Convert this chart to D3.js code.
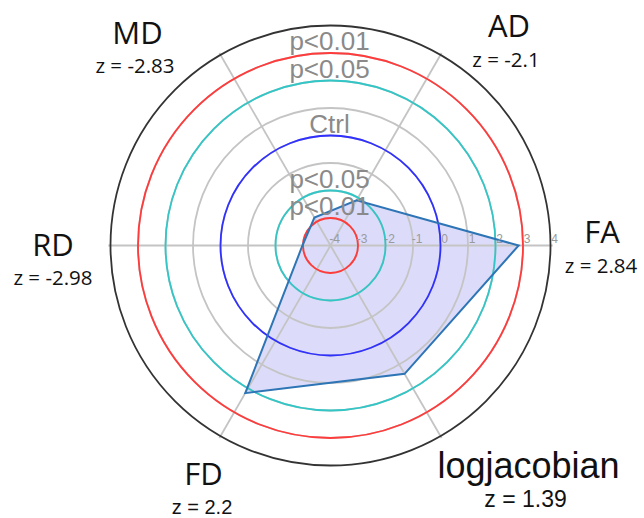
<!DOCTYPE html>
<html><head><meta charset="utf-8">
<script src="https://cdn.jsdelivr.net/npm/d3@7"></script>
<style>html,body{margin:0;padding:0;background:#fff;}svg{display:block;}</style>
</head><body><svg id="c" width="644" height="518"></svg>
<script>
// ---- data ----
const axisNames = ["FA", "AD", "MD", "RD", "FD", "logjacobian"];
const zValues = [2.84, -2.1, -2.83, -2.98, 2.2, 1.39];
const zLabels = ["z = 2.84", "z = -2.1", "z = -2.83", "z = -2.98", "z = 2.2", "z = 1.39"];
const tickValues = [-4, -3, -2, -1, 0, 1, 2, 3, 4];
const gridValues = [-3, -2, -1, 0, 1, 2, 3];
const refValues = [-3, -2, 0, 2, 3];
const refNames = ["p<0.01", "p<0.05", "Ctrl", "p<0.05", "p<0.01"];

// ---- layout ----
const W = 644, H = 518, cx = 330.5, cy = 245.5, R = 220;
const refColors = ["#ff3b3b", "#33c6c6", "#3030ff", "#33c6c6", "#ff3b3b"];
const OS = "'Open Sans', sans-serif", LS = "'Liberation Sans', Arial, sans-serif";
const labelLayout = [
  {x: 602, y: 243, zx: 601, zy: 273, big: 31, small: 20.5, font: OS, zfont: OS},
  {x: 509, y: 37, zx: 506, zy: 67, big: 31, small: 20.5, font: OS, zfont: OS},
  {x: 137.5, y: 43.5, zx: 135, zy: 73, big: 31, small: 20.5, font: OS, zfont: OS},
  {x: 53, y: 256, zx: 53, zy: 285, big: 31, small: 20.5, font: OS, zfont: OS},
  {x: 203.5, y: 485, zx: 202, zy: 514, big: 31, small: 20, font: OS, zfont: LS},
  {x: 528.5, y: 478, zx: 525.5, zy: 507, big: 36, small: 23, font: LS, zfont: LS}
];

const svg = d3.select("#c");
const r = d3.scaleLinear().domain([-4, 4]).range([0, R]);
const angle = d3.scaleLinear().domain([0, axisNames.length]).range([0, 2 * Math.PI]);
const g = svg.append("g").attr("transform", `translate(${cx},${cy})`);

const px = (i, v) => r(v) * Math.cos(angle(i));
const py = (i, v) => -r(v) * Math.sin(angle(i));

const line = d3.lineRadial().angle((d, i) => Math.PI / 2 - angle(i)).radius(d => r(d)).curve(d3.curveLinearClosed);

// polygon fill (beneath grid)
g.append("path").datum(zValues).attr("d", line)
  .attr("fill", "#dcdcfa").attr("stroke", "none");

// gray grid rings
g.selectAll("circle.grid").data(gridValues).join("circle")
  .attr("class", "grid").attr("r", d => r(d))
  .attr("fill", "none").attr("stroke", "#c4c4c4").attr("stroke-width", 1.8);

// spokes
g.selectAll("line.spoke").data(axisNames).join("line")
  .attr("class", "spoke")
  .attr("x1", 0).attr("y1", 0)
  .attr("x2", (d, i) => px(i, 4) * 1.01).attr("y2", (d, i) => py(i, 4) * 1.01)
  .attr("stroke", "#c4c4c4").attr("stroke-width", 1.8);

// outer ring
g.append("circle").attr("r", r(4)).attr("fill", "none")
  .attr("stroke", "#333").attr("stroke-width", 1.8);

// reference rings
g.selectAll("circle.ref").data(refValues).join("circle")
  .attr("class", "ref").attr("r", d => r(d))
  .attr("fill", "none").attr("stroke", (d, i) => refColors[i]).attr("stroke-width", 1.8);

// polygon outline
g.append("path").datum(zValues).attr("d", line)
  .attr("fill", "none")
  .attr("stroke", "#2e75b6").attr("stroke-width", 2).attr("stroke-linejoin", "miter");

// tick labels along FA axis
g.selectAll("text.tick").data(tickValues).join("text")
  .attr("class", "tick")
  .attr("x", d => r(d) + 4).attr("y", -3)
  .attr("text-anchor", "middle")
  .attr("font-family", LS).attr("font-size", 12)
  .attr("fill", "#9a9a9a")
  .text(d => d);

// reference labels
g.selectAll("text.ref").data(refValues).join("text")
  .attr("class", "ref")
  .attr("x", -1).attr("y", d => -r(d) - 3)
  .attr("text-anchor", "middle")
  .attr("font-family", LS).attr("font-size", 26)
  .attr("fill", "#8a8a8a")
  .text((d, i) => refNames[i]);

// axis labels
axisNames.forEach((name, i) => {
  const L = labelLayout[i];
  svg.append("text").attr("x", L.x).attr("y", L.y).attr("text-anchor", "middle")
    .attr("font-family", L.font).attr("font-size", L.big).attr("fill", "#111").text(name);
  svg.append("text").attr("x", L.zx).attr("y", L.zy).attr("text-anchor", "middle")
    .attr("font-family", L.zfont).attr("font-size", L.small).attr("fill", "#111").text(zLabels[i]);
});
</script></body></html>
